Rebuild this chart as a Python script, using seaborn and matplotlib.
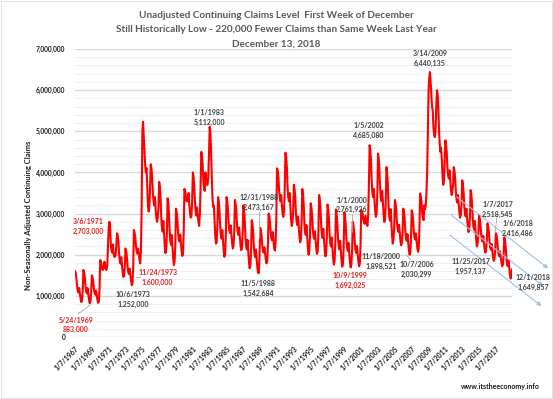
import numpy as np
import pandas as pd
import matplotlib
matplotlib.use("Agg")
import matplotlib.pyplot as plt
import matplotlib.dates as mdates
from matplotlib.lines import Line2D
from matplotlib.patches import Rectangle
from matplotlib.ticker import FuncFormatter, MultipleLocator
import seaborn as sns

# ---------------- data (monthly, thousands of claims) -------------
claims_1967_1976 = [
    1610, 1550, 1440, 1230, 1120, 1080, 1190, 1060, 930, 850, 890, 1120,
    1630, 1570, 1450, 1230, 1100, 1060, 1190, 1050, 900, 820, 860, 1060,
    1500, 1450, 1350, 1170, 1070, 1030, 1130, 1020, 900, 830, 860, 1190,
    1870, 1820, 1750, 1640, 1630, 1700, 1830, 1700, 1640, 1630, 1750, 2200,
    2650, 2800, 2700, 2300, 2100, 2050, 2250, 2050, 1950, 1950, 2000, 2250,
    2520, 2450, 2290, 1990, 1830, 1780, 1940, 1760, 1570, 1460, 1510, 1700,
    2150, 2080, 1950, 1700, 1570, 1530, 1660, 1510, 1350, 1260, 1300, 1730,
    2600, 2530, 2420, 2200, 2080, 2030, 2150, 2020, 1870, 1790, 2100, 3100,
    5000, 5230, 4900, 4500, 4200, 4000, 4100, 3700, 3200, 3050, 3150, 3600,
    4200, 4100, 3900, 3500, 3300, 3200, 3400, 3100, 2900, 2800, 2900, 3150,
]
claims_1977_1986 = [
    3770, 3630, 3390, 2900, 2650, 2560, 2820, 2520, 2210, 2040, 2130, 2510,
    3370, 3240, 3010, 2560, 2320, 2240, 2480, 2200, 1910, 1750, 1830, 2230,
    3120, 3030, 2870, 2550, 2370, 2320, 2490, 2290, 2090, 1970, 2030, 2540,
    3600, 3550, 3450, 3300, 3350, 3300, 3500, 3200, 3000, 2900, 2950, 3300,
    4000, 3900, 3700, 3300, 3050, 2950, 3150, 2950, 2800, 2700, 3000, 3600,
    4500, 4400, 4200, 3800, 3600, 3550, 4000, 3800, 3700, 3700, 3900, 4400,
    5110, 4950, 4600, 3900, 3400, 3160, 3200, 2800, 2450, 2270, 2300, 2700,
    3400, 3280, 3080, 2680, 2460, 2390, 2600, 2360, 2100, 1950, 2020, 2460,
    3400, 3300, 3130, 2780, 2590, 2530, 2710, 2500, 2280, 2150, 2210, 2560,
    3330, 3230, 3060, 2720, 2540, 2480, 2660, 2450, 2230, 2110, 2170, 2490,
]
claims_1987_1996 = [
    3200, 3080, 2860, 2440, 2210, 2130, 2360, 2100, 1820, 1670, 1750, 2080,
    2840, 2740, 2560, 2200, 2000, 1940, 2130, 1910, 1680, 1560, 1550, 1940,
    2650, 2580, 2460, 2220, 2090, 2050, 2180, 2030, 1880, 1790, 1840, 2210,
    3000, 2950, 2800, 2550, 2400, 2350, 2550, 2350, 2150, 2100, 2300, 2900,
    4100, 4050, 3900, 3550, 3400, 3300, 3450, 3200, 3000, 2920, 3050, 3600,
    4480, 4400, 4150, 3650, 3400, 3300, 3500, 3200, 2850, 2700, 2780, 3060,
    3700, 3590, 3390, 3000, 2790, 2720, 2930, 2690, 2440, 2300, 2370, 2760,
    3600, 3470, 3250, 2800, 2560, 2480, 2720, 2450, 2160, 2000, 2080, 2440,
    3250, 3150, 2980, 2640, 2450, 2390, 2570, 2360, 2140, 2020, 2080, 2520,
    3450, 3330, 3120, 2710, 2480, 2410, 2630, 2380, 2110, 1960, 2030, 2400,
]
claims_1997_2006 = [
    3220, 3100, 2900, 2490, 2270, 2200, 2420, 2170, 1910, 1760, 1830, 2230,
    3100, 2990, 2790, 2410, 2200, 2130, 2340, 2100, 1850, 1710, 1780, 2170,
    3030, 2920, 2740, 2360, 2160, 2090, 2290, 2060, 1820, 1690, 1760, 2080,
    2800, 2710, 2560, 2260, 2100, 2040, 2210, 2020, 1830, 1720, 1780, 2200,
    3080, 3050, 3000, 2850, 2800, 2750, 2950, 2850, 2750, 2700, 3000, 3700,
    4660, 4550, 4300, 3800, 3500, 3400, 3600, 3300, 3050, 2920, 3000, 3500,
    4460, 4330, 4090, 3630, 3380, 3300, 3550, 3260, 2970, 2800, 2880, 3270,
    4130, 3980, 3720, 3200, 2920, 2830, 3110, 2790, 2460, 2270, 2360, 2640,
    3330, 3240, 3090, 2780, 2620, 2560, 2730, 2540, 2340, 2230, 2290, 2540,
    3120, 3030, 2870, 2560, 2390, 2340, 2500, 2310, 2110, 2000, 2060, 2380,
]
claims_2007_2018 = [
    3080, 3000, 2860, 2580, 2420, 2370, 2520, 2350, 2170, 2070, 2150, 2600,
    3490, 3400, 3300, 3000, 2900, 2840, 3200, 3100, 3200, 3500, 4000, 4900,
    6000, 6300, 6440, 6200, 5900, 5600, 5500, 5100, 4900, 4860, 5000, 5600,
    6000, 5900, 5600, 5000, 4700, 4500, 4600, 4300, 3900, 3700, 3800, 4300,
    4780, 4660, 4490, 4100, 3920, 3850, 4050, 3820, 3580, 3450, 3520, 3700,
    4130, 4030, 3860, 3520, 3330, 3270, 3450, 3240, 3020, 2900, 2960, 3220,
    3810, 3710, 3530, 3180, 2990, 2930, 3120, 2900, 2680, 2550, 2610, 2910,
    3570, 3460, 3270, 2890, 2680, 2610, 2820, 2580, 2340, 2200, 2270, 2470,
    2960, 2890, 2760, 2510, 2370, 2320, 2460, 2300, 2140, 2050, 2100, 2300,
    2760, 2690, 2560, 2310, 2170, 2120, 2260, 2100, 1940, 1850, 1900, 2080,
    2520, 2460, 2340, 2120, 2000, 1960, 2080, 1940, 1800, 1720, 1760, 1970,
    2420, 2340, 2200, 1920, 1770, 1720, 1870, 1700, 1520, 1420, 1470, 1650,
]
first_month = "1967-01-01"
last_month = "2018-12-01"

tick_years = [1967, 1969, 1971, 1973, 1975, 1977, 1979, 1981, 1983, 1985, 1987, 1989, 1991,
              1993, 1995, 1997, 1999, 2001, 2003, 2005, 2007, 2009, 2011, 2013, 2015, 2017]
tick_labels = [f"1/7/{y}" for y in tick_years]

title_lines = ["Unadjusted Continuing Claims Level  First Week of December",
               "Still Historically Low - 220,000 Fewer Claims than Same Week Last Year",
               "December 13, 2018"]
y_label = "Non-Seasonally Adjusted Continuing Claims"
watermark = "www.itstheeconomy.info"

# callouts: (date line, value line, is_red)
callout_dates = ["3/14/2009", "1/1/1983", "1/5/2002", "12/31/1988", "1/1/2000", "11/18/2000",
                 "10/7/2006", "10/9/1999", "11/5/1988", "3/6/1971", "11/24/1973", "10/6/1973",
                 "5/24/1969", "1/7/2017", "1/6/2018", "11/25/2017", "12/1/2018"]
callout_values = ["6,440,135", "5,112,000", "4,685,080", "2,473,167", "2,761,926", "1,898,521",
                  "2,030,299", "1,692,025", "1,542,684", "2,703,000", "1,600,000", "1,252,000",
                  "883,000", "2,518,545", "2,416,486", "1,957,137", "1,649,857"]
callout_red = [False, False, False, False, False, False, False, True, False, True, True, False,
               True, False, False, False, False]

# trend arrows (start date, start value, end date, end value)
trend_start_dates = ["2012-05-01", "2011-09-27", "2011-07-16"]
trend_start_vals = [3.405e6, 2.96e6, 2.476e6]
trend_end_dates = ["2023-03-17", "2022-08-15", "2022-06-06"]
trend_end_vals = [1.667e6, 1.238e6, 0.752e6]

# ---------------- layout positions (image pixels) ----------------
W, H = 553, 399
callout_pos = [(430, 58.7), (209.3, 117.2), (369, 130.5), (259, 202.8), (351.7, 205),
               (381, 261.7), (416.7, 269.3), (350, 280.2), (258.3, 288.7), (88.3, 226.8),
               (157.7, 277.5), (133.3, 299.5), (76, 325.0), (497.7, 209.5), (517.7, 228.3),
               (470.7, 266.3), (533.3, 282.7)]
leader_lines = [((78, 314), (90, 305)), ((136, 277), (140, 277)), ((259, 212), (259, 238)),
                ((352, 214), (352, 232)), ((406, 255), (411, 260)), ((497, 217), (495, 233))]


def fx(px):
    return px / W


def fy(py):
    return 1 - py / H


claims = np.array(claims_1967_1976 + claims_1977_1986 + claims_1987_1996
                  + claims_1997_2006 + claims_2007_2018) * 1000
dates = pd.date_range(first_month, last_month, freq="MS")
df = pd.DataFrame({"date": dates, "claims": claims})

sns.set_style("white")
plt.rcParams["font.family"] = ["Lato", "DejaVu Sans"]

fig = plt.figure(figsize=(W / 100, H / 100), dpi=100)
ax = fig.add_axes([fx(75), fy(337), (512 - 75) / W, (337 - 49) / H])

sns.lineplot(data=df, x="date", y="claims", ax=ax, color="#FF0000", linewidth=1.5)

ax.set_xlim(dates[0], dates[-1])
ax.set_ylim(0, 7_000_000)
ax.yaxis.set_major_locator(MultipleLocator(1_000_000))
ax.yaxis.set_minor_locator(MultipleLocator(200_000))
ax.grid(which="major", axis="y", color="#D9D9D9", lw=1.0)
ax.grid(which="minor", axis="y", color="#EDEDED", lw=0.6)
ax.grid(which="major", axis="x", visible=False)
ax.set_axisbelow(True)
for s in ax.spines.values():
    s.set_visible(False)

ax.yaxis.set_major_formatter(FuncFormatter(lambda v, p: f"{int(v):,}"))
ax.tick_params(axis="y", which="both", length=0, pad=7, labelsize=4.8, labelcolor="#1A1A1A")
for lab in ax.get_yticklabels():
    lab.set_fontweight("bold")

tick_dates = pd.to_datetime([f"{y}-01-07" for y in tick_years])
ax.set_xticks(tick_dates)
ax.set_xticklabels(tick_labels, rotation=45, ha="right", va="top", rotation_mode="anchor",
                   fontsize=5, fontweight="bold", color="#1A1A1A")
ax.tick_params(axis="x", length=0, pad=6)
ax.set_xlabel("")
ax.set_ylabel(y_label, fontsize=5.5, fontweight="bold", color="#1A1A1A")
ax.yaxis.set_label_coords((32 - 75) / 437, (337 - 215) / 288)

# trend arrows
for sd, sv, ed, ev in zip(trend_start_dates, trend_start_vals, trend_end_dates, trend_end_vals):
    ax.annotate("", xy=(mdates.date2num(pd.Timestamp(ed)), ev),
                xytext=(mdates.date2num(pd.Timestamp(sd)), sv),
                arrowprops=dict(arrowstyle="-|>", color="#9DC3E6", lw=0.8, mutation_scale=6,
                                shrinkA=0, shrinkB=0),
                annotation_clip=False)

# leader lines
for (x1, y1), (x2, y2) in leader_lines:
    fig.add_artist(Line2D([fx(x1), fx(x2)], [fy(y1), fy(y2)], transform=fig.transFigure,
                          color="#A6A6A6", lw=0.6))

# callouts
for d, v, red, (px, py) in zip(callout_dates, callout_values, callout_red, callout_pos):
    fig.text(fx(px), fy(py), f"{d}\n{v}", ha="center", va="center", fontsize=5,
             fontweight="bold", color="#E81E1E" if red else "#404040", linespacing=1.45)

# title
for line, py in zip(title_lines, [16, 30, 44]):
    fig.text(fx(276.5), fy(py), line, ha="center", va="center", fontsize=7.2,
             fontweight="bold", color="#595959")

fig.text(fx(500), fy(387), watermark, ha="center", va="center", fontsize=5,
         fontweight="bold", color="#1A1A1A")

fig.add_artist(Rectangle((0.002, 0.002), 0.996, 0.996, transform=fig.transFigure,
                         fill=False, edgecolor="#E3E3E3", lw=0.8))

fig.savefig("out.png", dpi=100)
